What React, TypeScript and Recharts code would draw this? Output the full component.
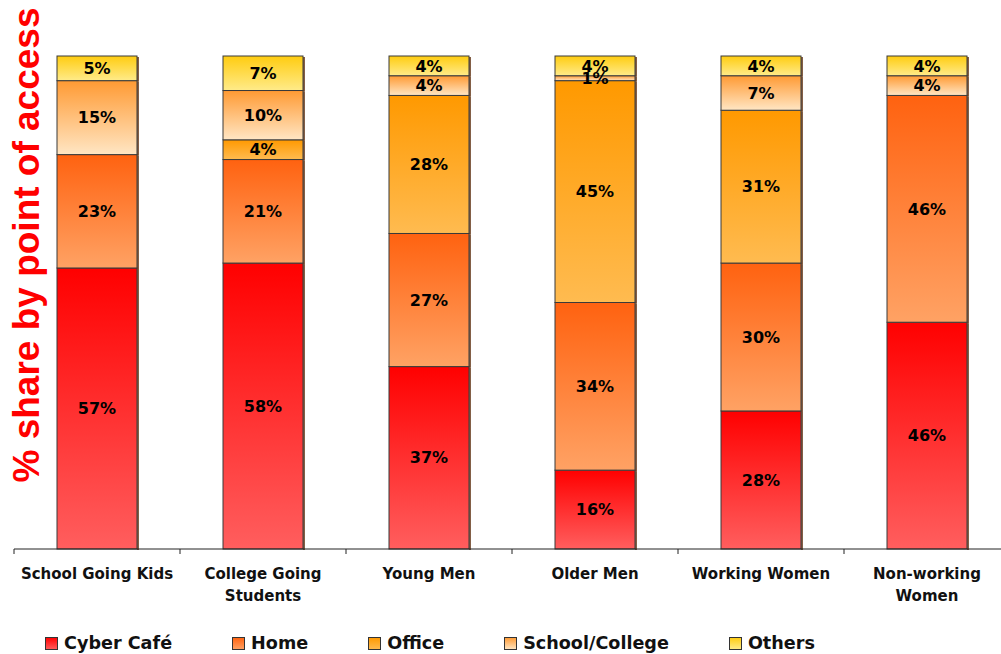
import React from "react";
import { BarChart, Bar, XAxis, YAxis, Legend, LabelList, Customized } from "recharts";

const categories = [
  "School Going Kids",
  "College Going\nStudents",
  "Young Men",
  "Older Men",
  "Working Women",
  "Non-working\nWomen",
];
const cyberCafe = [57, 58, 37, 16, 28, 46];
const home = [23, 21, 27, 34, 30, 46];
const office = [0, 4, 28, 45, 31, 0];
const schoolCollege = [15, 10, 4, 1, 7, 4];
const others = [5, 7, 4, 4, 4, 4];

const seriesNames = ["Cyber Café", "Home", "Office", "School/College", "Others"];
const seriesKeys = ["cyber", "home", "office", "school", "others"];
const gradients: Record<string, [string, string]> = {
  cyber: ["#ff0000", "#ff5e5e"],
  home: ["#ff6210", "#ffa264"],
  office: ["#ff9900", "#ffbb50"],
  school: ["#ff9a33", "#ffe6c4"],
  others: ["#ffcc10", "#ffeb8a"],
};

const data = categories.map((c, i) => ({
  name: c,
  cyber: cyberCafe[i],
  home: home[i],
  office: office[i],
  school: schoolCollege[i],
  others: others[i],
}));

const CHART_W = 1010;
const MARGIN_LEFT = 14;
const BAND = (CHART_W - MARGIN_LEFT) / categories.length;
const FONT = "'DejaVu Sans', Verdana, sans-serif";

const makeShape = (key: string) => (props: any) => {
  const { x, y, width, height } = props;
  if (!height || height <= 0) return <g />;
  return (
    <g>
      <rect x={x + width} y={y + 1} width={2} height={height} fill="#5a2a08" opacity={0.75} />
      <rect
        x={x}
        y={y}
        width={width}
        height={height}
        fill={`url(#grad-${key})`}
        stroke="#3a3a3a"
        strokeWidth={1}
      />
    </g>
  );
};

const Tick = (props: any) => {
  const { x, y, payload } = props;
  const lines = String(payload.value).split("\n");
  const bx = x - BAND / 2;
  return (
    <g>
      <line x1={bx} x2={bx} y1={y} y2={y + 5} stroke="#222" strokeWidth={1} />
      <text
        x={x}
        y={y + 30}
        textAnchor="middle"
        fontFamily={FONT}
        fontWeight="bold"
        fontSize={15}
        fill="#111"
      >
        {lines.map((l, i) => (
          <tspan key={i} x={x} dy={i === 0 ? 0 : 22}>
            {l}
          </tspan>
        ))}
      </text>
    </g>
  );
};

const LegendContent = () => (
  <div style={{ display: "flex", alignItems: "center", fontFamily: FONT, fontWeight: "bold", fontSize: 17.6, color: "#111" }}>
    {seriesKeys.map((k, i) => (
      <div key={k} style={{ display: "flex", alignItems: "center", marginRight: 60 }}>
        <svg width={13} height={13} style={{ display: "block" }}>
          <rect x={0.5} y={0.5} width={12} height={12} fill={`url(#grad-${k})`} stroke="#333" strokeWidth={1} />
        </svg>
        <span style={{ marginLeft: 6, lineHeight: "24px" }}>{seriesNames[i]}</span>
      </div>
    ))}
  </div>
);

const YTitle = () => (
  <text
    x={39}
    y={245}
    transform="rotate(-90, 39, 245)"
    textAnchor="middle"
    fontFamily="'Liberation Sans', Arial, sans-serif"
    fontWeight="bold"
    fontSize={37}
    fill="#ff0000"
  >
    % share by point of access
  </text>
);

export default function App() {
  return (
    <div style={{ position: "absolute", left: 0, top: 0, width: 1001, height: 654, overflow: "hidden", background: "#fff" }}>
      <BarChart
        width={CHART_W}
        height={654}
        data={data}
        margin={{ top: 56, right: 0, left: MARGIN_LEFT, bottom: 0 }}
        barSize={80}
      >
        <defs>
          {seriesKeys.map((k) => (
            <linearGradient key={k} id={`grad-${k}`} x1="0" y1="0" x2="0" y2="1">
              <stop offset="0%" stopColor={gradients[k][0]} />
              <stop offset="100%" stopColor={gradients[k][1]} />
            </linearGradient>
          ))}
        </defs>
        <XAxis
          dataKey="name"
          height={81}
          tickSize={0}
          tickMargin={0}
          tickLine={false}
          axisLine={{ stroke: "#222", strokeWidth: 1 }}
          tick={<Tick />}
          interval={0}
        />
        <YAxis hide domain={[0, 100]} />
        <Legend
          verticalAlign="bottom"
          content={<LegendContent />}
          wrapperStyle={{ position: "absolute", left: 45, top: 631, width: 900, height: 24 }}
        />
        {seriesKeys.map((k, i) => (
          <Bar
            key={k}
            dataKey={k}
            name={seriesNames[i]}
            stackId="a"
            isAnimationActive={false}
            shape={makeShape(k)}
          >
            <LabelList
              dataKey={k}
              position="center"
              formatter={(v: any) => (v ? `${v}%` : "")}
              fontFamily={FONT}
              fontWeight="bold"
              fontSize={16}
              fill="#000"
            />
          </Bar>
        ))}
        <Customized component={YTitle} />
      </BarChart>
    </div>
  );
}
